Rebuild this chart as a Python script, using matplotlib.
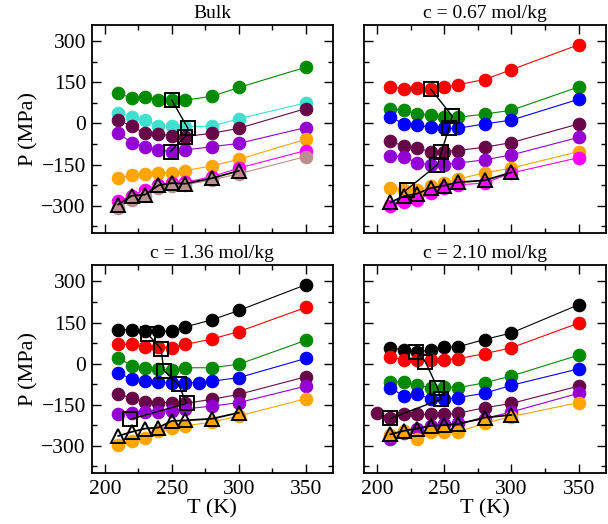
"""
Isocoras P(T) para agua bulk y disoluciones a distintas concentraciones.
"""
import matplotlib
matplotlib.use('Agg')
import matplotlib.pyplot as plt
from matplotlib.ticker import MultipleLocator

plt.rcParams['font.family'] = ['Liberation Serif', 'DejaVu Serif']

# Colores estilo xmgrace
GREEN4 = '#008b00'
TURQ = '#40e0d0'
MAROON = '#670748'
VIOLET = '#9400d3'
ORANGE = '#ffa500'
MAGENTA = '#ff00ff'
BROWN = '#bc8f8f'
RED = '#ff0000'
BLUE = '#0000ff'
BLACK = '#000000'

T = [210, 220, 230, 240, 250, 260, 280, 300, 350]
T_TRI = [210, 220, 230, 240, 250, 260, 280, 300]

# ---- Bulk ----
bulk_green = [112, 91, 97, 87, 85, 85, 99, 131, 205]
bulk_turq = [39, 24, 14, -10, -10, -12, -10, 17, 75]
bulk_maroon = [12, -10, -36, -39, -46, -48, -36, -18, 54]
bulk_violet = [-36, -70, -85, -97, -103, -97, -85, -73, -15]
bulk_orange = [-200, -188, -184, -180, -181, -172, -155, -131, -58]
bulk_magenta = [-284, -264, -242, -224, -218, -215, -194, -163, -99]
bulk_brown = [-308, -278, -266, -236, -230, -224, -206, -184, -121]
bulk_tri = [-296, -264, -260, -226, -218, -220, -200, -173]
bulk_sq_T = [250, 262, 260, 249]
bulk_sq_P = [85, -18, -48, -103]

# ---- c = 0.67 mol/kg ----
c067_red = [133, 127, 129, 125, 133, 141, 160, 196, 287]
c067_green = [52, 48, 34, 30, 24, 22, 34, 48, 133]
c067_blue = [24, -2, -6, -14, -18, -18, -2, 12, 88]
c067_maroon = [-66, -82, -91, -103, -103, -99, -87, -70, -2]
c067_violet = [-119, -121, -145, -151, -151, -145, -133, -115, -51]
c067_orange = [-236, -242, -242, -230, -218, -203, -181, -163, -103]
c067_magenta = [-302, -288, -281, -254, -236, -224, -218, -181, -125]
c067_tri = [-288, -266, -256, -236, -227, -215, -208, -179]
c067_sq_T = [240, 256, 253.5, 248, 245, 222]
c067_sq_P = [125, 27, -18, -103, -151, -242]

# ---- c = 1.36 mol/kg ----
c136_black = [124, 124, 118, 118, 118, 134, 160, 194, 288]
c136_red = [70, 70, 61, 61, 58, 70, 90, 117, 205]
c136_green = [21, -7, -15, -21, -24, -15, -15, -2, 85]
c136_blue_T = [210, 220, 230, 240, 250, 260, 270, 280, 300, 350]
c136_blue = [-33, -57, -63, -67, -72, -70, -69, -64, -51, 19]
c136_maroon = [-112, -124, -140, -142, -142, -145, -130, -112, -48]
c136_violet = [-185, -180, -177, -175, -172, -165, -155, -142, -82]
c136_orange = [-298, -282, -270, -245, -233, -227, -213, -191, -128]
c136_tri = [-264, -249, -237, -233, -209, -207, -201, -179]
c136_sq_T = [232, 242, 244, 255, 261, 219]
c136_sq_P = [108, 54, -25, -76, -145, -203]

# ---- c = 2.10 mol/kg ----
c210_black = [58, 49, 42, 51, 61, 61, 88, 112, 215]
c210_red = [24, 15, 15, 13, 15, 18, 36, 58, 148]
c210_green = [-67, -67, -79, -88, -84, -88, -70, -45, 31]
c210_blue = [-88, -118, -112, -128, -130, -124, -108, -79, -19]
c210_maroon_T = [200, 210, 220, 230, 240, 250, 260, 280, 300, 350]
c210_maroon = [-181, -197, -185, -185, -185, -185, -181, -161, -145, -82]
c210_violet = [-276, -254, -239, -227, -221, -218, -201, -176, -108]
c210_orange = [-262, -245, -276, -249, -251, -249, -218, -193, -142]
c210_tri = [-258, -245, -237, -227, -224, -221, -197, -187]
c210_sq_T = [229, 236, 245, 247.5, 210]
c210_sq_P = [42, 7, -88, -130, -200]

paneles = [
    {
        'titulo': 'Bulk',
        'series': [(T, bulk_green, GREEN4), (T, bulk_turq, TURQ),
                   (T, bulk_maroon, MAROON), (T, bulk_violet, VIOLET),
                   (T, bulk_orange, ORANGE), (T, bulk_magenta, MAGENTA),
                   (T, bulk_brown, BROWN)],
        'tri': bulk_tri, 'sq': (bulk_sq_T, bulk_sq_P),
    },
    {
        'titulo': 'c = 0.67 mol/kg',
        'series': [(T, c067_red, RED), (T, c067_green, GREEN4),
                   (T, c067_blue, BLUE), (T, c067_maroon, MAROON),
                   (T, c067_violet, VIOLET), (T, c067_orange, ORANGE),
                   (T, c067_magenta, MAGENTA)],
        'tri': c067_tri, 'sq': (c067_sq_T, c067_sq_P),
    },
    {
        'titulo': 'c = 1.36 mol/kg',
        'series': [(T, c136_black, BLACK), (T, c136_red, RED),
                   (T, c136_green, GREEN4), (c136_blue_T, c136_blue, BLUE),
                   (T, c136_maroon, MAROON), (T, c136_violet, VIOLET),
                   (T, c136_orange, ORANGE)],
        'tri': c136_tri, 'sq': (c136_sq_T, c136_sq_P),
    },
    {
        'titulo': 'c = 2.10 mol/kg',
        'series': [(T, c210_black, BLACK), (T, c210_red, RED),
                   (T, c210_green, GREEN4), (T, c210_blue, BLUE),
                   (c210_maroon_T, c210_maroon, MAROON), (T, c210_violet, VIOLET),
                   (T, c210_orange, ORANGE)],
        'tri': c210_tri, 'sq': (c210_sq_T, c210_sq_P),
    },
]

fig = plt.figure(figsize=(6.08, 5.24), dpi=100)

# posiciones [izq, abajo, ancho, alto] en fracción de figura
posiciones = [
    [0.1505, 0.5553, 0.3964, 0.3975],
    [0.5979, 0.5553, 0.3980, 0.3975],
    [0.1505, 0.0968, 0.3964, 0.3975],
    [0.5979, 0.0968, 0.3980, 0.3975],
]

for i, (panel, pos) in enumerate(zip(paneles, posiciones)):
    ax = fig.add_axes(pos)

    for tx, py, col in panel['series']:
        ax.plot(tx, py, '-o', color=col, linewidth=0.8, markersize=9,
                markeredgewidth=0.8, markeredgecolor=col, zorder=2)

    # Triángulos
    ax.plot(T_TRI, panel['tri'], '-^', color='black', linewidth=1.3,
            markersize=10, markerfacecolor='none', markeredgecolor='black',
            markeredgewidth=1.4, zorder=3)

    # Cuadrados
    sq_T, sq_P = panel['sq']
    ax.plot(sq_T, sq_P, '-s', color='black', linewidth=1.0,
            markersize=9.5, markerfacecolor='none', markeredgecolor='black',
            markeredgewidth=1.4, zorder=4)

    ax.set_xlim(190, 370)
    ax.set_ylim(-400, 360)
    ax.xaxis.set_major_locator(MultipleLocator(50))
    ax.xaxis.set_minor_locator(MultipleLocator(25))
    ax.yaxis.set_major_locator(MultipleLocator(150))
    ax.yaxis.set_minor_locator(MultipleLocator(75))
    ax.tick_params(which='both', direction='in', top=True, right=True,
                   width=1.0, labelsize=15.5)
    ax.tick_params(which='major', length=6.5)
    ax.tick_params(which='minor', length=3.5)
    ax.tick_params(axis='x', pad=5)
    ax.tick_params(axis='y', pad=4)
    for s in ax.spines.values():
        s.set_linewidth(1.3)

    ax.set_title(panel['titulo'], fontsize=14, pad=5)

    if i % 2 == 0:
        ax.set_ylabel('P (MPa)', fontsize=16, labelpad=2)
    else:
        ax.tick_params(axis='y', labelleft=False)
    if i >= 2:
        ax.set_xlabel('T (K)', fontsize=16, labelpad=0)
    else:
        ax.tick_params(axis='x', labelbottom=False)

plt.savefig('out.png', dpi=100)
